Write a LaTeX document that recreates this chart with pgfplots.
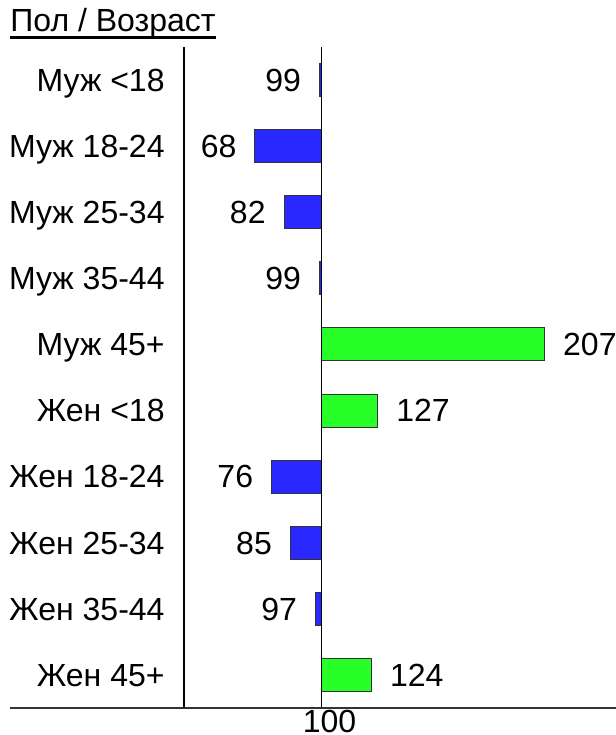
\documentclass[border=0pt]{standalone}
\usepackage{pgfplots}
\pgfplotsset{compat=1.18}
\usepackage{pgfplotstable}
\usepackage{fontspec}
\setmainfont{Liberation Sans}
\definecolor{barblue}{RGB}{40,40,255}
\definecolor{bargreen}{RGB}{40,255,40}
\pgfplotstableread{
y v
1 99
2 68
3 82
4 99
7 76
8 85
9 97
}\lowdata
\pgfplotstableread{
y v
5 207
6 127
10 124
}\highdata
\begin{document}
\fontsize{16pt}{19pt}\selectfont
\begin{tikzpicture}
\begin{axis}[
  name=ax,
  scale only axis, width=216pt, height=330.5pt,
  xmin=-66, xmax=141.2, ymin=0.5, ymax=10.5, y dir=reverse,
  enlargelimits=false,
  axis line style={draw=none},
  major tick length=0pt,
  xtick={0}, xticklabels={100},
  ytick={1,2,3,4,5,6,7,8,9,10},
  yticklabels={Муж <18, Муж 18-24, Муж 25-34, Муж 35-44, Муж 45+, Жен <18, Жен 18-24, Жен 25-34, Жен 35-44, Жен 45+},
  ticklabel style={font=\fontsize{16pt}{19pt}\selectfont, inner sep=0pt},
  yticklabel style={anchor=base east, xshift=-9.5pt, yshift=-5.65pt},
  xticklabel style={anchor=base, xshift=4pt, yshift=-12.1pt},
  xbar, bar shift=0pt, bar width=16.5pt,
  point meta=explicit symbolic,
  nodes near coords,
  every node near coord/.append style={font=\fontsize{16pt}{19pt}\selectfont, inner sep=0pt, text=black},
  clip=false,
]
\addplot[draw=black!80, line width=0.5pt, fill=barblue,
  every node near coord/.append style={anchor=base east, xshift=-9pt, yshift=-5.65pt}]
  table[x expr=\thisrow{v}-100, y=y, meta=v] {\lowdata};
\addplot[draw=black!80, line width=0.5pt, fill=bargreen,
  every node near coord/.append style={anchor=base west, xshift=9pt, yshift=-5.65pt}]
  table[x expr=\thisrow{v}-100, y=y, meta=v] {\highdata};
\draw[line width=0.8pt] (axis cs:-66,0.5) -- (axis cs:-66,10.5);
\draw[line width=0.8pt] (axis cs:0,0.5) -- (axis cs:0,10.5);
\draw[line width=1pt, black!80] ([xshift=-87pt]axis cs:-66,10.5) -- (axis cs:141.2,10.5);
\end{axis}
\node[anchor=base west, inner sep=0pt] (t) at ([xshift=-87pt, yshift=7.5pt]ax.north west) {Пол / Возраст};
\draw[line width=1.5pt] ([yshift=-2.75pt]t.base west) -- ([yshift=-2.75pt]t.base east);
\pgfresetboundingbox
\path ([xshift=-92pt,yshift=-13.5pt]ax.south west) rectangle ([yshift=23.5pt]ax.north east);
\end{tikzpicture}
\end{document}
